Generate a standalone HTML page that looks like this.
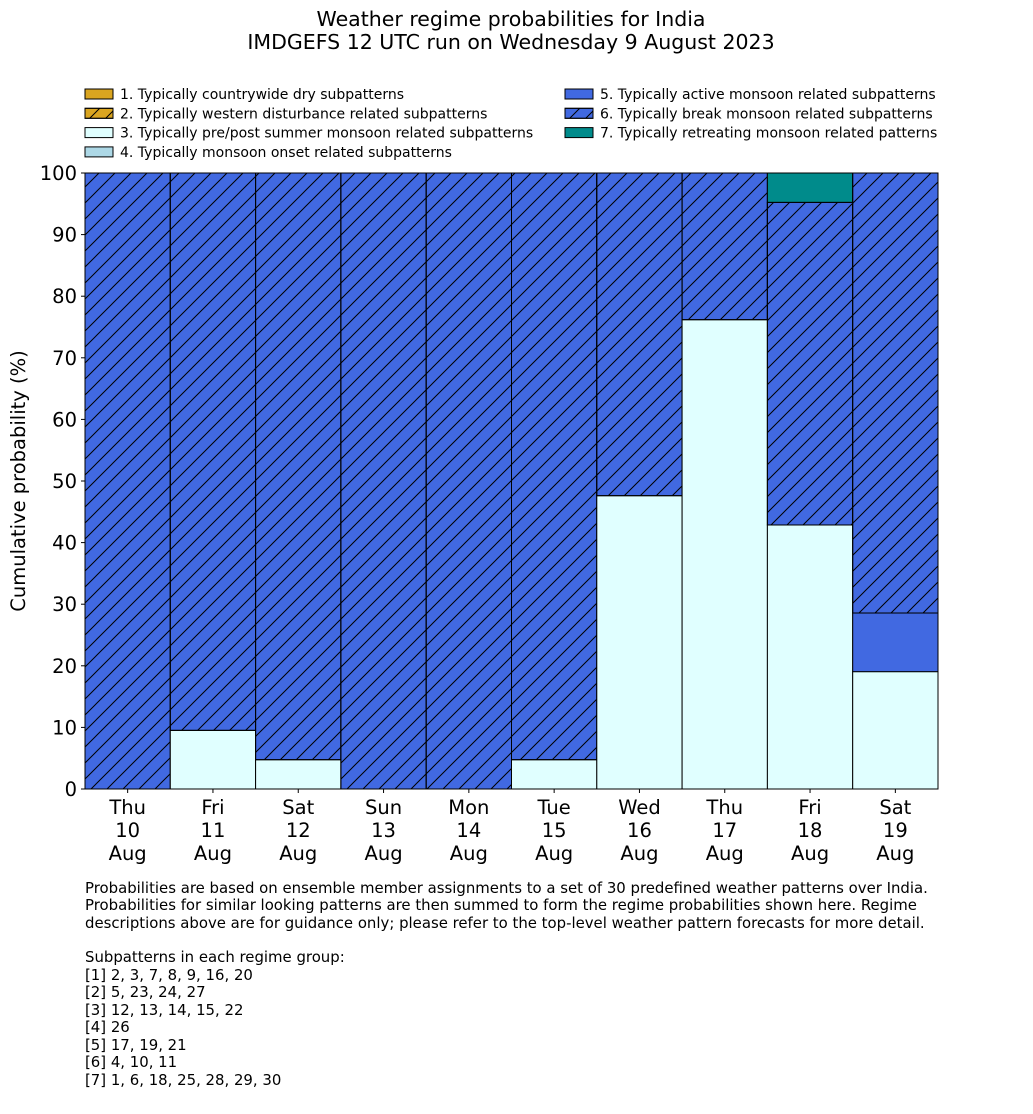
<!DOCTYPE html>
<html><head><meta charset="utf-8"><style>
body{margin:0;background:#fff;}
svg{display:block;font-family:"DejaVu Sans","Liberation Sans",sans-serif;}
</style></head><body>
<svg id="chart" width="1033" height="1114">
<defs>
<pattern id="hatch" patternUnits="userSpaceOnUse" width="16" height="16">
<path d="M-4,4 L4,-4 M0,16 L16,0 M12,20 L20,12" stroke="#000" stroke-width="1"/>
</pattern>
</defs>
<text x="511" y="26" text-anchor="middle" font-size="20.5">Weather regime probabilities for India</text>
<text x="511" y="49" text-anchor="middle" font-size="20.5">IMDGEFS 12 UTC run on Wednesday 9 August 2023</text>
<g id="legend" font-size="14"></g>
<g id="bars"></g>
<g id="axes" font-size="19.5"></g>
<text transform="translate(25,481) rotate(-90)" text-anchor="middle" font-size="19.5">Cumulative probability (%)</text>
<g font-size="14.9">
<text x="85" y="893">Probabilities are based on ensemble member assignments to a set of 30 predefined weather patterns over India.</text>
<text x="85" y="910">Probabilities for similar looking patterns are then summed to form the regime probabilities shown here. Regime</text>
<text x="85" y="928">descriptions above are for guidance only; please refer to the top-level weather pattern forecasts for more detail.</text>
<text x="85" y="962">Subpatterns in each regime group:</text>
<text x="85" y="980">[1] 2, 3, 7, 8, 9, 16, 20</text>
<text x="85" y="997">[2] 5, 23, 24, 27</text>
<text x="85" y="1015">[3] 12, 13, 14, 15, 22</text>
<text x="85" y="1032">[4] 26</text>
<text x="85" y="1050">[5] 17, 19, 21</text>
<text x="85" y="1067">[6] 4, 10, 11</text>
<text x="85" y="1085">[7] 1, 6, 18, 25, 28, 29, 30</text>
</g>
</svg>
<script>
const days=["Thu","Fri","Sat","Sun","Mon","Tue","Wed","Thu","Fri","Sat"];
const dates=["10","11","12","13","14","15","16","17","18","19"];
const r1=[0,0,0,0,0,0,0,0,0,0];
const r2=[0,0,0,0,0,0,0,0,0,0];
const r3=[0,9.52,4.76,0,0,4.76,47.62,76.19,42.86,19.05];
const r4=[0,0,0,0,0,0,0,0,0,0];
const r5=[0,0,0,0,0,0,0,0,0,9.52];
const r6=[100,90.48,95.24,100,100,95.24,52.38,23.81,52.38,71.43];
const r7=[0,0,0,0,0,0,0,0,4.76,0];
const yTicks=[0,10,20,30,40,50,60,70,80,90,100];
const legendLabels=["1. Typically countrywide dry subpatterns","2. Typically western disturbance related subpatterns","3. Typically pre/post summer monsoon related subpatterns","4. Typically monsoon onset related subpatterns","5. Typically active monsoon related subpatterns","6. Typically break monsoon related subpatterns","7. Typically retreating monsoon related patterns"];
const fills=["#daa520","#daa520","#e0ffff","#add8e6","#4169e1","#4169e1","#008b8b"];
const hatched=[false,true,false,false,false,true,false];
const series=[r1,r2,r3,r4,r5,r6,r7];
const NS="http://www.w3.org/2000/svg";
const X0=85,X1=938,Y0=789,Y1=173;
const bw=(X1-X0)/days.length;
const xPos=i=>X0+i*bw;
const yPos=v=>Y0-(v/100)*(Y0-Y1);
function mk(tag,attrs,parent){const e=document.createElementNS(NS,tag);for(const k in attrs)e.setAttribute(k,attrs[k]);parent.appendChild(e);return e;}
const bars=document.getElementById('bars');
for(let i=0;i<days.length;i++){
  let base=0;
  for(let s=0;s<series.length;s++){
    const v=series[s][i]; if(v<=0) continue;
    const y=yPos(base+v), h=yPos(base)-y;
    const r=mk('rect',{x:xPos(i),y:y,width:bw,height:h,fill:fills[s],stroke:'#000','stroke-width':1},bars);
    
    
    if(hatched[s]) mk('rect',{x:xPos(i),y:y,width:bw,height:h,fill:'url(#hatch)',stroke:'#000','stroke-width':1},bars);
    base+=v;
  }
}
const ax=document.getElementById('axes');
const yl=mk('line',{x1:X0,y1:Y0,x2:X0,y2:Y1,stroke:'#000','stroke-width':1},ax);


const xl=mk('line',{x1:X0,y1:Y0,x2:X1,y2:Y0,stroke:'#000','stroke-width':1},ax);


yTicks.forEach(t=>{
  const y=yPos(t);
  mk('line',{x1:X0-4,y1:y,x2:X0,y2:y,stroke:'#000'},ax);
  const tx=mk('text',{x:X0-8,y:y+7,'text-anchor':'end'},ax);
  tx.textContent=t;
  
  
});
days.forEach((d,i)=>{
  const cx=xPos(i)+bw/2;
  mk('line',{x1:cx,y1:Y0,x2:cx,y2:Y0+4,stroke:'#000'},ax);
  [d,dates[i],"Aug"].forEach((s,j)=>{
    const tx=mk('text',{x:cx,y:814+j*23,'text-anchor':'middle'},ax);
    tx.textContent=s;
    
    
  });
});
const lg=document.getElementById('legend');
legendLabels.forEach((l,i)=>{
  const col=i<4?0:1, row=i<4?i:i-4;
  const x=col?565:85, y=89+row*19.3;
  const g=mk('g',{},lg);
  
  
  mk('rect',{x:x,y:y,width:28,height:10,fill:fills[i],stroke:'#000','stroke-width':1},g);
  if(hatched[i]) mk('rect',{x:x,y:y,width:28,height:10,fill:'url(#hatch)',stroke:'#000','stroke-width':1},g);
  const t=mk('text',{x:x+35,y:y+10},g);
  t.textContent=l;
});
</script>
</body></html>
